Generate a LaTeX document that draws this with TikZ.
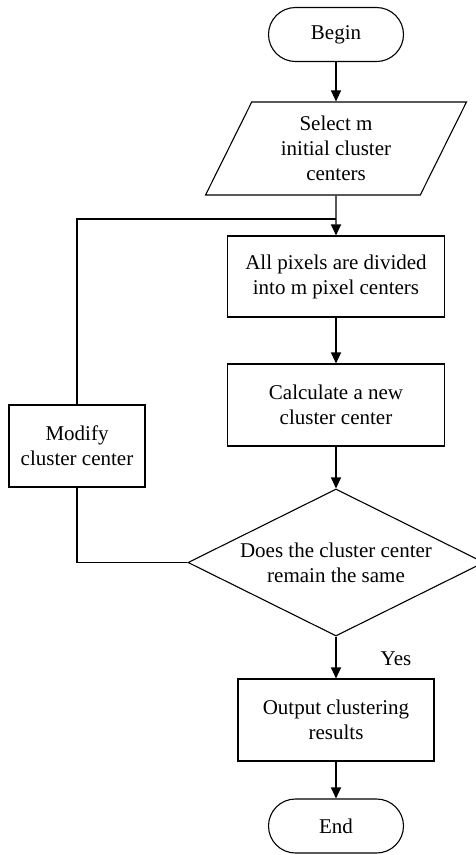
\documentclass[tikz,border=0pt]{standalone}
\usepackage{fontspec}
\setmainfont{Liberation Serif}
\usetikzlibrary{shapes.geometric,arrows.meta}
\begin{document}
\begin{tikzpicture}[x=1pt,y=-1pt,
  every node/.style={font=\fontsize{21}{25}\selectfont, align=center, inner sep=0pt},
  box/.style={draw, line width=1.1pt, rectangle},
  term/.style={draw, line width=1.1pt, rectangle, rounded corners=27pt, minimum width=135pt, minimum height=54pt},
  para/.style={draw, line width=1.1pt, trapezium, trapezium left angle=65, trapezium right angle=115, trapezium stretches=true, minimum width=261pt, minimum height=93pt},
  decision/.style={draw, line width=1.1pt, diamond, aspect=1.96, minimum width=296pt, minimum height=147pt},
  flow/.style={line width=1.1pt, -{Triangle[length=11pt,width=10pt]}},
  plain/.style={line width=1.1pt}]
\useasboundingbox (0,0) rectangle (476,855);
\node[term] (begin) at (336,34.5) {Begin};
\node[para] (sel) at (336,148.5) {Select m\\initial cluster\\centers};
\node[box, minimum width=217pt, minimum height=81pt] (div) at (336,276.5) {All pixels are divided\\into m pixel centers};
\node[box, minimum width=217pt, minimum height=82pt] (calc) at (336,405) {Calculate a new\\cluster center};
\node[decision] (dec) at (336,562.5) {Does the cluster center\\remain the same};
\node[box, minimum width=136pt, minimum height=82pt] (mod) at (77,446) {Modify\\cluster center};
\node[box, minimum width=196pt, minimum height=82pt] (out) at (336,720) {Output clustering\\results};
\node[term] (end) at (336,826) {End};
\node (yes) at (396,659) {Yes};
\coordinate (join) at (336,219);
\draw[flow] (begin) -- (sel);
\draw[flow] (sel) -- (div);
\draw[flow] (div) -- (calc);
\draw[flow] (calc) -- (dec);
\draw[flow] (dec) -- (out);
\draw[flow] (out) -- (end);
\draw[plain] (dec.west) -| (mod.south);
\draw[plain] (mod.north) |- (join);
\end{tikzpicture}
\end{document}
